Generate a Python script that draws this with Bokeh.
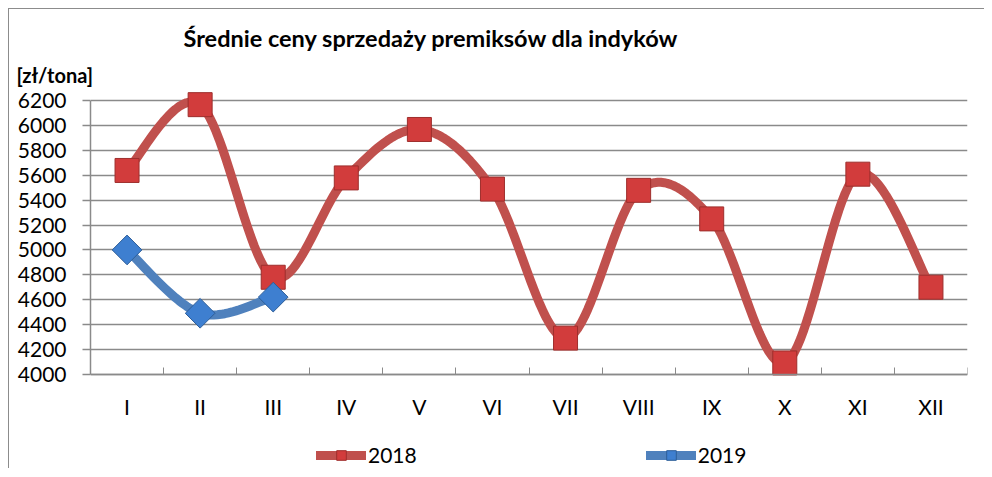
import numpy as np
from bokeh.plotting import figure
from bokeh.models import (FixedTicker, Legend, LegendItem, Range1d, Title)
from bokeh.embed import file_html
from bokeh.resources import INLINE

months = ["I", "II", "III", "IV", "V", "VI", "VII", "VIII", "IX", "X", "XI", "XII"]
prices_2018 = [5640, 6170, 4780, 5580, 5970, 5490, 4290, 5480, 5250, 4090, 5610, 4700]
prices_2019 = [5000, 4490, 4620]
y_ticks = [4000, 4200, 4400, 4600, 4800, 5000, 5200, 5400, 5600, 5800, 6000, 6200]
title_text = "Średnie ceny sprzedaży premiksów dla indyków"
unit_text = "[zł/tona]"

FONT = "Lato"
RED_LINE = "#C0504D"
RED_FILL = "#D23C3C"
RED_EDGE = "#9E2E2C"
BLUE_LINE = "#4F81BD"
BLUE_FILL = "#3E7FD0"
BLUE_EDGE = "#2E5E98"
GRID = "#8a8a8a"


def smooth(xs, ys, n=24):
    """Catmull-Rom style smoothing (like Excel's smoothed line)."""
    xs = np.asarray(xs, float)
    ys = np.asarray(ys, float)
    px = np.concatenate([[xs[0]], xs, [xs[-1]]])
    py = np.concatenate([[ys[0]], ys, [ys[-1]]])
    out_x, out_y = [], []
    t = np.linspace(0, 1, n)
    for i in range(1, len(px) - 2):
        x0, x1, x2, x3 = px[i - 1], px[i], px[i + 1], px[i + 2]
        y0, y1, y2, y3 = py[i - 1], py[i], py[i + 1], py[i + 2]
        c1x, c1y = x1 + (x2 - x0) / 6, y1 + (y2 - y0) / 6
        c2x, c2y = x2 - (x3 - x1) / 6, y2 - (y3 - y1) / 6
        bx = (1 - t) ** 3 * x1 + 3 * (1 - t) ** 2 * t * c1x + 3 * (1 - t) * t ** 2 * c2x + t ** 3 * x2
        by = (1 - t) ** 3 * y1 + 3 * (1 - t) ** 2 * t * c1y + 3 * (1 - t) * t ** 2 * c2y + t ** 3 * y2
        out_x.extend(bx.tolist())
        out_y.extend(by.tolist())
    return out_x, out_y


xpos_2018 = list(range(1, len(prices_2018) + 1))
xpos_2019 = list(range(1, len(prices_2019) + 1))

p = figure(frame_width=877, frame_height=380, output_backend="svg", toolbar_location=None,
           x_range=Range1d(0.5, 12.5), y_range=Range1d(3240, 6300),
           min_border_left=81, min_border_right=17, min_border_top=79, min_border_bottom=0,
           tools="",
           styles={"margin-left": "8px", "margin-top": "8px",
                   "border-top": "1px solid #8c8c8c", "border-left": "1px solid #8c8c8c"})
p.outline_line_color = None
p.background_fill_color = "white"
p.border_fill_color = "white"

# titles
p.title.text = title_text
p.title.text_font = FONT
p.title.text_font_style = "bold"
p.title.text_font_size = "23.5px"
p.title.text_color = "black"
p.title.align = "left"
p.title.offset = 93
p.title.standoff = 13

unit_title = Title(text=unit_text, text_font=FONT, text_font_style="bold",
                   text_font_size="20px", text_color="black",
                   align="left", offset=-74, standoff=4)
p.add_layout(unit_title, "above")

# x axis (drawn at the 4000 level inside the frame)
xa = p.xaxis[0]
xa.fixed_location = y_ticks[0]
xa.ticker = FixedTicker(ticks=xpos_2018, minor_ticks=[i + 0.5 for i in range(0, 13)])
xa.major_label_overrides = {i + 1: m for i, m in enumerate(months)}
xa.major_tick_out = 0
xa.major_tick_in = 0
xa.minor_tick_in = 7
xa.minor_tick_out = 0
xa.minor_tick_line_color = GRID
xa.axis_line_color = GRID
xa.axis_line_width = 1.5
xa.major_label_text_font = FONT
xa.major_label_text_font_size = "21px"
xa.major_label_text_color = "black"
xa.major_label_standoff = 20

# y axis
ya = p.yaxis[0]
ya.ticker = FixedTicker(ticks=y_ticks, minor_ticks=[])
ya.bounds = (y_ticks[0], y_ticks[-1])
ya.major_tick_out = 8
ya.major_tick_in = 0
ya.major_tick_line_color = GRID
ya.major_tick_line_width = 1.3
ya.axis_line_color = GRID
ya.axis_line_width = 1.5
ya.major_label_text_font = FONT
ya.major_label_text_font_size = "21px"
ya.major_label_text_color = "black"
ya.major_label_standoff = 16

p.xgrid.visible = False
p.ygrid.ticker = FixedTicker(ticks=y_ticks, minor_ticks=[])
p.ygrid.grid_line_color = GRID
p.ygrid.grid_line_width = 1.3

# series 2018
sx, sy = smooth(xpos_2018, prices_2018)
l18 = p.line(sx, sy, line_color=RED_LINE, line_width=9, line_cap="round", line_join="round")
m18 = p.scatter(xpos_2018, prices_2018, marker="square", size=24,
                fill_color=RED_FILL, line_color=RED_EDGE, line_width=1)

# series 2019
bx, by = smooth(xpos_2019, prices_2019)
l19 = p.line(bx, by, line_color=BLUE_LINE, line_width=9, line_cap="round", line_join="round")
m19 = p.scatter(xpos_2019, prices_2019, marker="square", angle=np.pi / 4, size=21,
                fill_color=BLUE_FILL, line_color=BLUE_EDGE, line_width=1)

legend = Legend(items=[LegendItem(label="2018", renderers=[l18, m18]),
                       LegendItem(label="2019", renderers=[l19, m19])],
                orientation="horizontal", location=(226, 1),
                glyph_width=50, glyph_height=24, label_standoff=2, spacing=229,
                padding=0, margin=0, border_line_color=None, background_fill_alpha=0,
                label_text_font=FONT, label_text_font_size="21px", label_text_color="black")
p.add_layout(legend, "center")

open("out.html", "w").write(file_html(p, INLINE))
